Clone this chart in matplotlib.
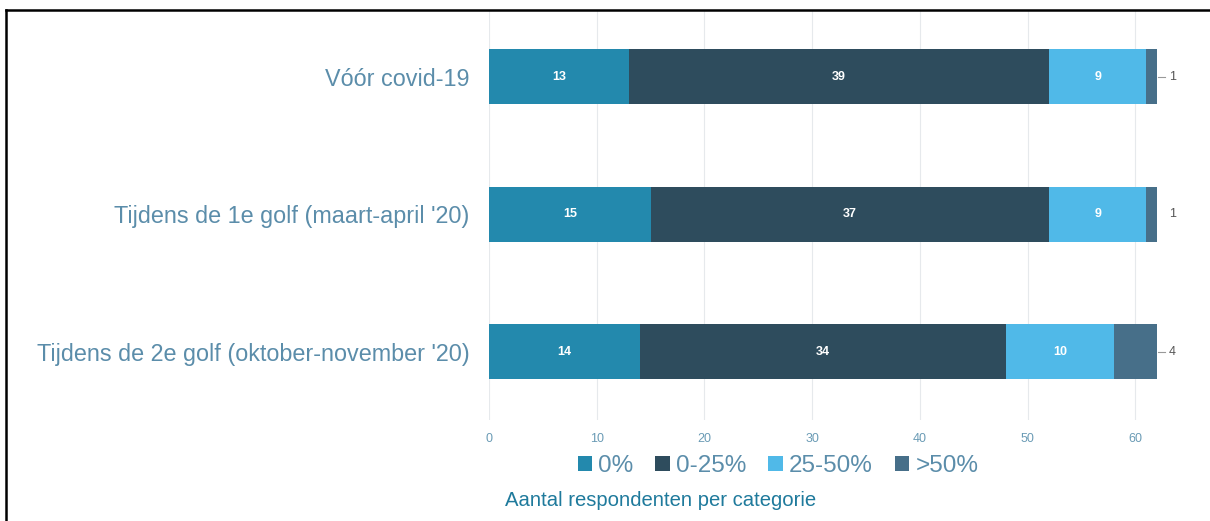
import matplotlib
matplotlib.use("Agg")
import matplotlib.pyplot as plt
from matplotlib.lines import Line2D
from matplotlib.patches import Patch

plt.rcParams['font.family'] = ['Liberation Sans', 'DejaVu Sans']

categories = ["Vóór covid-19",
              "Tijdens de 1e golf (maart-april '20)",
              "Tijdens de 2e golf (oktober-november '20)"]
series_names = ["0%", "0-25%", "25-50%", ">50%"]
v_0 = [13, 15, 14]
v_0_25 = [39, 37, 34]
v_25_50 = [9, 9, 10]
v_50 = [1, 1, 4]
x_ticks = [0, 10, 20, 30, 40, 50, 60]

series = [v_0, v_0_25, v_25_50, v_50]
colors = ["#2389AD", "#2E4C5D", "#50B9E8", "#476F89"]

W, H = 1210, 521
fig = plt.figure(figsize=(W / 100, H / 100), dpi=100)
ax = fig.add_axes([489 / W, 1 - 420 / H, (1157 - 489) / W, 410 / H])

ypos = list(range(len(categories)))
left = [0] * len(categories)
for si, (vals, col) in enumerate(zip(series, colors)):
    ax.barh(ypos, vals, left=left, height=0.4, color=col, zorder=2)
    for yi, (l, v) in enumerate(zip(left, vals)):
        if si < 3:
            ax.text(l + v / 2, yi, str(v), ha='center', va='center',
                    color='white', fontsize=9, fontweight='bold', zorder=3)
    left = [l + v for l, v in zip(left, vals)]

# values of the last segment, outside the bars
leader = [True, False, True]
for yi, (tot, v) in enumerate(zip(left, v_50)):
    if leader[yi]:
        ax.plot([tot + 0.1, tot + 0.75], [yi, yi], color='#999999', lw=0.8,
                clip_on=False, zorder=3)
    ax.text(tot + 1.1, yi, str(v), ha='left', va='center', color='#555555',
            fontsize=9)

ax.set_xlim(0, 62)
ax.set_ylim(2.495, -0.484)
ax.set_xticks(x_ticks)
ax.set_xticklabels([str(t) for t in x_ticks], color='#6A9BB5', fontsize=9)
ax.set_yticks(ypos)
ax.set_yticklabels(categories, color='#5B8DAA', fontsize=16.8)
ax.tick_params(axis='x', length=0, pad=9)
ax.tick_params(axis='y', length=0, pad=14)
ax.grid(axis='x', color='#E6E9EC', lw=0.8, zorder=0)
for s in ax.spines.values():
    s.set_visible(False)

handles = [Patch(facecolor=c, edgecolor='none') for c in colors]
leg = fig.legend(handles, series_names, loc='center',
                 bbox_to_anchor=(778 / W, 1 - 466 / H), ncol=4, frameon=False,
                 fontsize=17.5, handlelength=0.6, handleheight=0.6,
                 handletextpad=0.25, columnspacing=0.9)
for t in leg.get_texts():
    t.set_color('#5B8DAA')

fig.text(505 / W, 1 - 500 / H, "Aantal respondenten per categorie",
         ha='left', va='center', color='#1F7A9C', fontsize=14.6)

# outer frame (top and left edges)
fig.add_artist(Line2D([6 / W, 1], [1 - 10 / H, 1 - 10 / H], color='black',
                      lw=1.8, transform=fig.transFigure))
fig.add_artist(Line2D([6 / W, 6 / W], [0, 1 - 10 / H], color='black',
                      lw=1.8, transform=fig.transFigure))

fig.savefig("out.png", dpi=100)
